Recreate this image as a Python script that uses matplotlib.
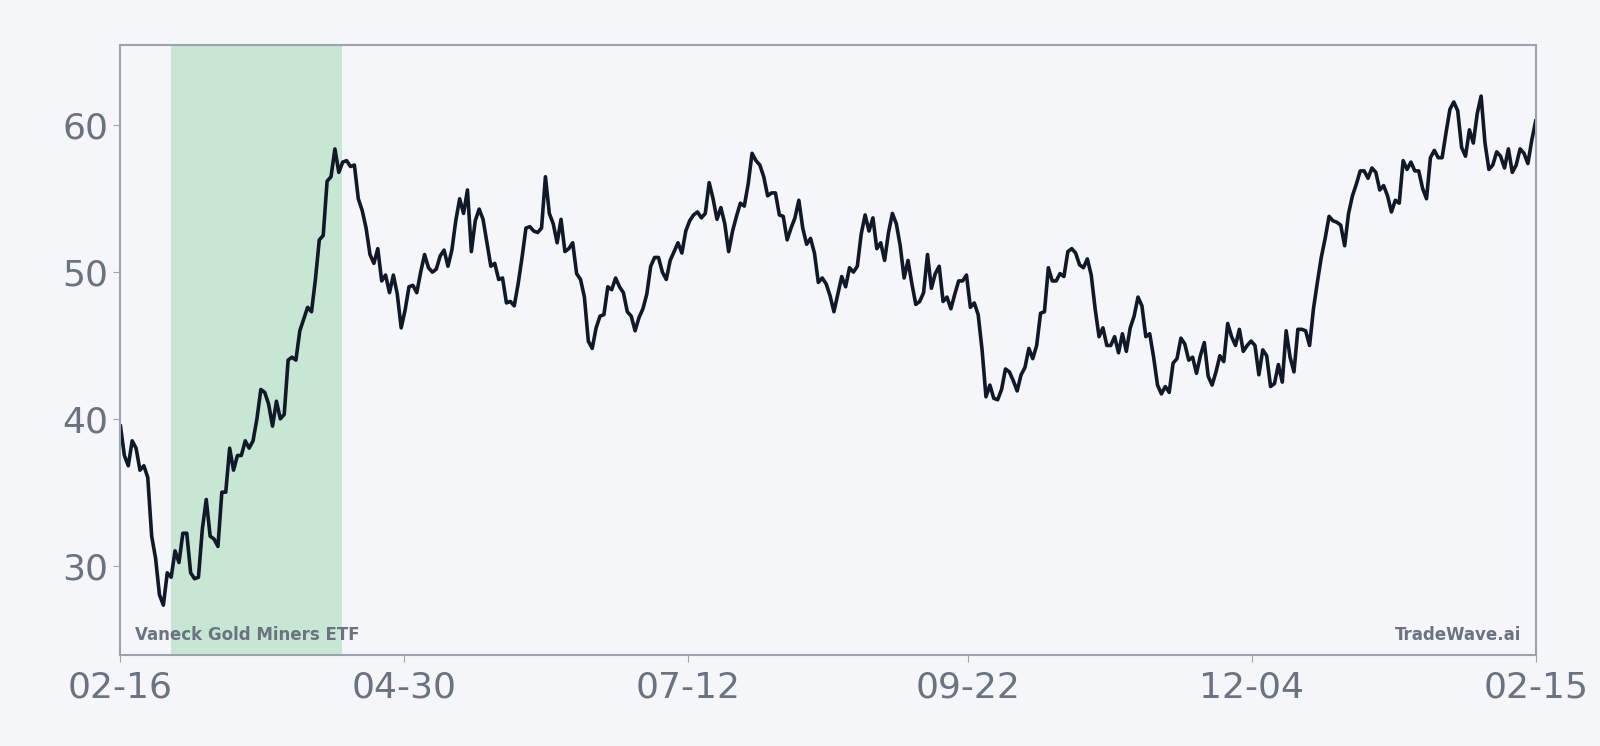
import matplotlib
matplotlib.use("Agg")
import matplotlib.pyplot as plt
import matplotlib.dates as mdates
import pandas as pd

start = "2023-02-16"
end = "2024-02-15"
shade_start = "2023-03-01"
shade_end = "2023-04-14"
tick_dates = ["2023-02-16", "2023-04-30", "2023-07-12", "2023-09-22", "2023-12-04", "2024-02-15"]
title_left = "Vaneck Gold Miners ETF"
title_right = "TradeWave.ai"

values = [39.5,37.5,36.8,38.5,38,36.5,36.8,36,32,30.5,28,27.3,29.5,29.2,31,30.2,32.2,32.2,29.5,29.1,29.2,32.5,34.5,32,31.8,31.3,35,35,38,36.5,37.5,37.5,38.5,38,38.5,40,42,41.8,41,39.5,41.2,40,40.3,44,44.2,44,46,46.8,47.6,47.3,49.5,52.2,52.5,56.2,56.5,58.4,56.8,57.5,57.6,57.2,57.3,55,54.2,53,51.2,50.6,51.6,49.4,49.8,48.6,49.8,48.5,46.2,47.4,49,49.1,48.6,50,51.2,50.3,50,50.2,51.1,51.5,50.4,51.5,53.5,55,54,55.6,51.4,53.5,54.3,53.6,52,50.4,50.6,49.5,49.6,47.9,48,47.7,49.2,51,53,53.1,52.8,52.7,53,56.5,54,53.3,52,53.6,51.4,51.6,52,49.9,49.5,48.3,45.3,44.8,46.2,47,47.1,49,48.8,49.6,49,48.6,47.3,47,46,46.9,47.5,48.5,50.4,51,51,50,49.5,50.8,51.4,52,51.3,52.8,53.5,53.9,54.1,53.7,54,56.1,55,53.6,54.4,53.3,51.4,52.8,53.8,54.7,54.5,56,58.1,57.6,57.3,56.5,55.2,55.4,55.4,53.9,53.8,52.2,53,53.7,54.9,53,51.9,52.3,51.3,49.3,49.6,49.2,48.4,47.3,48.5,49.7,49,50.3,50,50.4,52.6,53.9,52.8,53.7,51.6,52,50.8,52.7,54,53.3,51.8,49.6,50.8,49.2,47.8,48,48.6,51.2,48.9,49.9,50.4,48,48.3,47.5,48.5,49.4,49.4,49.8,47.6,47.9,47.1,44.7,41.5,42.3,41.4,41.3,42,43.4,43.2,42.6,41.9,43,43.5,44.8,44.1,45,47.2,47.3,50.3,49.4,49.4,49.9,49.7,51.4,51.6,51.3,50.5,50.3,50.9,49.8,47.5,45.6,46.2,45,45,45.6,44.5,45.8,44.6,46.2,47,48.3,47.7,45.6,45.8,44.2,42.3,41.7,42.2,41.8,43.8,44.1,45.5,45.1,44,44.2,43.1,44.3,45.2,42.9,42.3,43.2,44.3,43.9,46.5,45.6,45,46.1,44.6,45,45.3,45,43,44.7,44.3,42.2,42.4,43.7,42.5,46,44.2,43.2,46.1,46.1,46,45,47.5,49.3,51,52.3,53.8,53.5,53.4,53.2,51.8,54,55.2,56,56.9,56.9,56.4,57.1,56.8,55.6,55.9,55.2,54.1,54.9,54.7,57.6,57,57.5,56.9,56.9,55.7,55,57.8,58.3,57.8,57.8,59.5,61.1,61.6,61,58.5,57.9,59.7,58.8,60.8,62,58.8,57,57.3,58.2,57.9,57.1,58.4,56.8,57.3,58.4,58.1,57.4,59,60.3]

dates = pd.date_range(start, end, periods=len(values))
bg = "#f4f6f9"

fig = plt.figure(figsize=(16, 7.46), dpi=100, facecolor=bg)
ax = fig.add_axes([0.0753, 0.122, 0.8845, 0.818], facecolor=bg)
ax.axvspan(pd.Timestamp(shade_start), pd.Timestamp(shade_end), color="#c8e6d4", lw=0)
ax.plot(dates, values, color="#111827", lw=2.6)
ax.set_xlim(pd.Timestamp(start), pd.Timestamp(end))
ax.set_ylim(23.9, 65.5)
ax.set_yticks([30, 40, 50, 60])
ax.set_xticks([pd.Timestamp(d) for d in tick_dates])
ax.xaxis.set_major_formatter(mdates.DateFormatter("%m-%d"))
for s in ax.spines.values():
    s.set_color("#9ca3af"); s.set_linewidth(1.5)
ax.tick_params(labelsize=26, colors="#9ca3af", labelcolor="#6b7280", length=5)
ax.tick_params(axis="x", pad=6)
ax.text(0.01, 0.025, title_left, transform=ax.transAxes, fontsize=12, fontweight="bold", color="#6b7280")
ax.text(0.99, 0.025, title_right, transform=ax.transAxes, fontsize=12, fontweight="bold", color="#6b7280", ha="right")
fig.savefig("out.png", dpi=100, facecolor=bg)
